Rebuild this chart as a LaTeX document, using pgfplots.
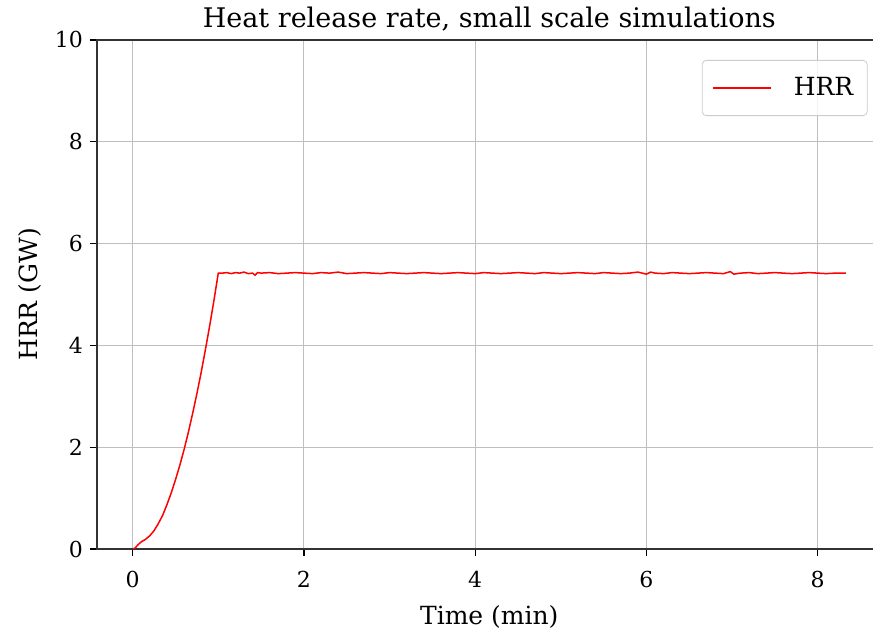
\documentclass[border=0pt]{standalone}
\usepackage{fontspec}
\setmainfont{DejaVu Serif}
\usepackage{pgfplots}
\pgfplotsset{compat=1.18}

\pgfplotstableread{
t hrr
0.00 0.00
0.03 0.02
0.06 0.08
0.10 0.14
0.15 0.19
0.20 0.26
0.25 0.36
0.30 0.50
0.35 0.66
0.40 0.87
0.45 1.10
0.50 1.36
0.55 1.64
0.60 1.95
0.65 2.29
0.70 2.66
0.75 3.05
0.80 3.47
0.85 3.92
0.90 4.39
0.95 4.89
1.00 5.42
1.05 5.42
1.10 5.43
1.15 5.41
1.20 5.43
1.25 5.42
1.30 5.44
1.35 5.41
1.40 5.42
1.43 5.38
1.46 5.43
1.50 5.42
1.60 5.43
1.70 5.41
1.80 5.42
1.90 5.43
2.00 5.42
2.10 5.41
2.20 5.43
2.30 5.42
2.40 5.44
2.50 5.41
2.60 5.42
2.70 5.43
2.80 5.42
2.90 5.41
3.00 5.43
3.10 5.42
3.20 5.41
3.30 5.42
3.40 5.43
3.50 5.42
3.60 5.41
3.70 5.42
3.80 5.43
3.90 5.42
4.00 5.41
4.10 5.43
4.20 5.42
4.30 5.41
4.40 5.42
4.50 5.43
4.60 5.42
4.70 5.41
4.80 5.43
4.90 5.42
5.00 5.41
5.10 5.42
5.20 5.43
5.30 5.42
5.40 5.41
5.50 5.43
5.60 5.42
5.70 5.41
5.80 5.42
5.90 5.44
6.00 5.40
6.05 5.44
6.10 5.42
6.20 5.41
6.30 5.43
6.40 5.42
6.50 5.41
6.60 5.42
6.70 5.43
6.80 5.42
6.90 5.41
6.98 5.45
7.02 5.40
7.10 5.42
7.20 5.43
7.30 5.41
7.40 5.42
7.50 5.43
7.60 5.42
7.70 5.41
7.80 5.42
7.90 5.43
8.00 5.42
8.10 5.41
8.20 5.42
8.33 5.42
}\hrrdata

\begin{document}
\begin{tikzpicture}
\begin{axis}[
    scale only axis,
    width=392.3pt, height=254.5pt,
    xmin=-0.4165, xmax=8.7465,
    ymin=0, ymax=10,
    xtick={0,2,4,6,8},
    ytick={0,2,4,6,8,10},
    xtick pos=bottom, ytick pos=left,
    tick align=outside,
    major tick length=3.5pt,
    tick style={black, line width=0.6pt},
    axis line style={black!80, line width=0.7pt},
    grid=major,
    grid style={black!25, line width=0.5pt},
    /pgf/number format/assume math mode=true,
    ticklabel style={font=\fontsize{11}{13}\selectfont},
    xticklabel style={yshift=-4pt},
    title={Heat release rate, small scale simulations},
    title style={font=\fontsize{13.5}{16}\selectfont, yshift=-5pt},
    xlabel={Time (min)},
    xlabel style={yshift=-2pt},
    ylabel={HRR (GW)},
    label style={font=\fontsize{12.5}{14}\selectfont},
    legend style={at={(1,1)}, anchor=north east, xshift=-7pt, yshift=-10pt,
        draw=black!20, rounded corners=2pt, fill=white, fill opacity=0.8,
        text opacity=1, inner xsep=5pt, inner ysep=6.5pt,
        font=\fontsize{12.5}{14}\selectfont,
        /tikz/every odd column/.append style={column sep=9pt}},
    legend cell align=left,
    legend image code/.code={\draw[#1] (0pt,0pt) -- (29pt,0pt);},
]
\addplot[red, line width=0.75pt] table[x=t, y=hrr] {\hrrdata};
\addlegendentry{HRR}
\end{axis}
\pgfresetboundingbox
\useasboundingbox (-48.5pt,-43.5pt) rectangle (388pt,274.5pt);
\end{tikzpicture}
\end{document}
